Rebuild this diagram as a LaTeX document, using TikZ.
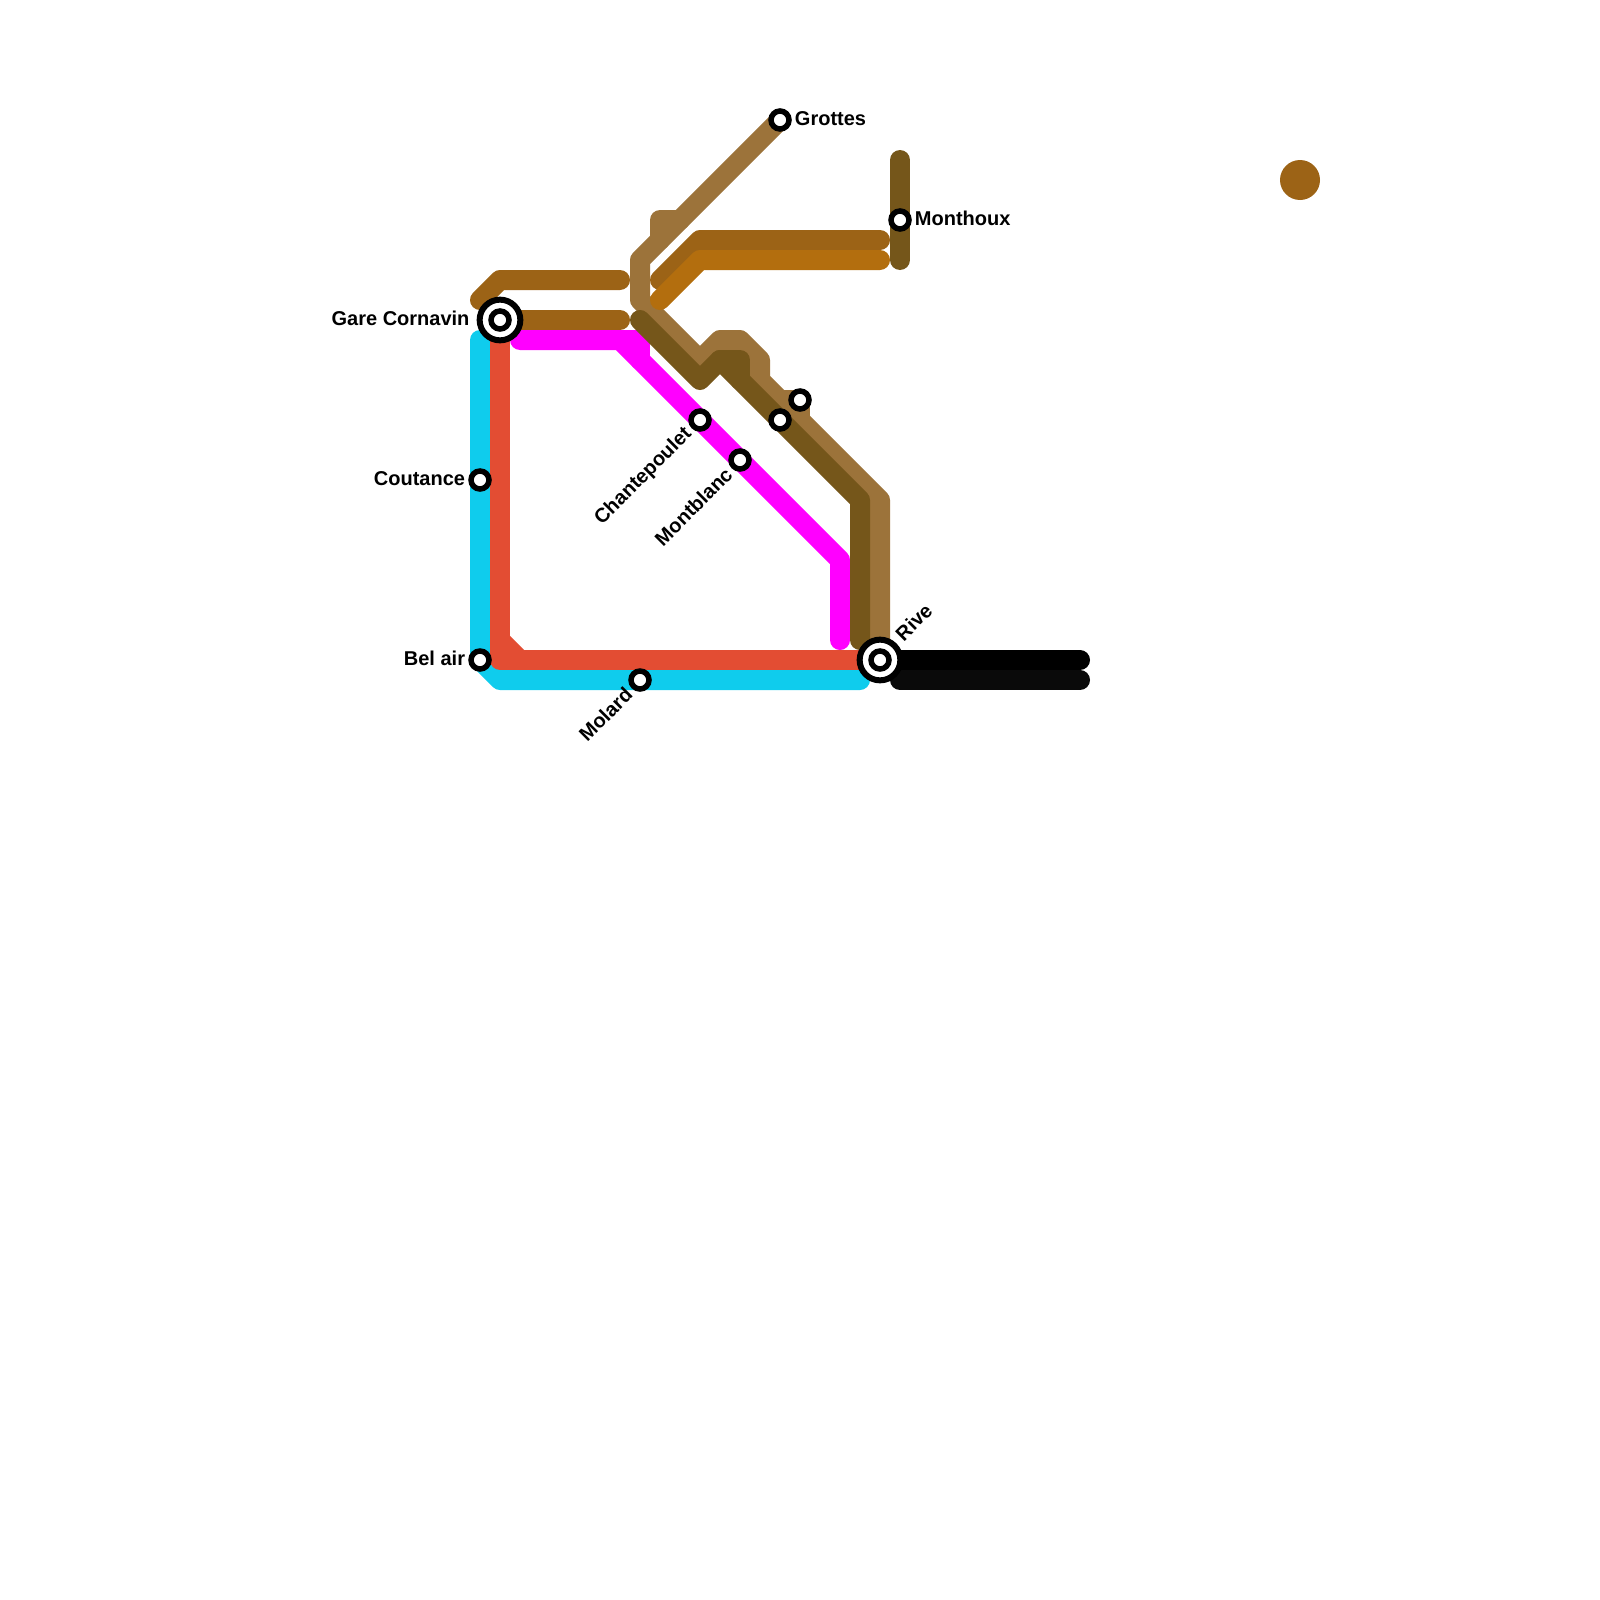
\documentclass[tikz,border=0pt]{standalone}
\usepackage{fontspec}
\setmainfont{Liberation Sans}
\usetikzlibrary{positioning}
\definecolor{LineTan}{HTML}{9C733A}
\definecolor{LineOlive}{HTML}{75561A}
\definecolor{LineBrown}{HTML}{9C6316}
\definecolor{LineOrange}{HTML}{B36E0E}
\definecolor{LineCyan}{HTML}{0FCCED}
\definecolor{LineRed}{HTML}{E34D33}
\definecolor{LineMagenta}{HTML}{FF00FF}
\definecolor{LineBlack}{HTML}{0A0A0A}
\tikzset{
  route/.style={line width=20pt,line cap=round,line join=round},
  stop/.style={circle,draw=black,fill=white,line width=5.5pt,minimum size=18pt,inner sep=0pt},
  hub/.style={circle,draw=black,fill=white,line width=6pt,minimum size=40.7pt,inner sep=0pt},
  stoplabel/.style={font=\fontsize{20}{22}\selectfont\bfseries,inner sep=0pt},
  flatlabel/.style={stoplabel,yshift=1.5pt},
  leanlabel/.style={stoplabel,rotate=45,anchor=east,xshift=-4pt}
}
\begin{document}
\begin{tikzpicture}[x=1pt,y=-1pt,node distance=3pt]
  \useasboundingbox (0,0) rectangle (1600,1600);
  % stations
  \coordinate (cornavinpos) at (500,320);
  \coordinate (rivepos) at (880,660);
  \coordinate (grottespos) at (780,120);
  \coordinate (monthouxpos) at (900,220);
  \coordinate (coutancepos) at (480,480);
  \coordinate (belairpos) at (480,660);
  \coordinate (molardpos) at (640,680);
  % line ends
  \coordinate (cyanstart) at (480,340);
  \coordinate (cyanend) at (860,680);
  \coordinate (brownastart) at (480,300);
  \coordinate (brownaend) at (620,280);
  \coordinate (brownbend) at (620,320);
  \coordinate (browncstart) at (660,280);
  \coordinate (browncend) at (880,240);
  \coordinate (orangestart) at (660,300);
  \coordinate (orangeend) at (880,260);
  \coordinate (magentastart) at (520,340);
  \coordinate (magentaend) at (840,640);
  \coordinate (olivestart) at (640,320);
  \coordinate (oliveend) at (860,640);
  \coordinate (monthouxtop) at (900,160);
  \coordinate (monthouxbot) at (900,260);
  \coordinate (blackastart) at (900,660);
  \coordinate (blackaend) at (1080,660);
  \coordinate (blackbstart) at (900,680);
  \coordinate (blackbend) at (1080,680);
  % lines
  \draw[route,LineCyan] (cyanstart) -- (belairpos) -- (500,680) -- (cyanend);
  \draw[route,LineRed] (cornavinpos) -- (500,660) -- (rivepos);
  \draw[route,LineRed] (500,640) -- (520,660);
  \draw[route,LineBrown] (brownastart) -- (500,280) -- (brownaend);
  \draw[route,LineBrown] (cornavinpos) -- (brownbend);
  \draw[route,LineMagenta] (magentastart) -- (620,340) -- (840,560) -- (magentaend);
  \draw[route,LineMagenta] (620,340) -- (640,340) -- (640,360);
  \draw[route,LineTan] (grottespos) -- (640,260) -- (640,300) -- (700,360) -- (720,340)
    -- (740,340) -- (760,360) -- (760,380) -- (880,500) -- (rivepos);
  \draw[route,LineTan] (660,240) -- (660,220) -- (680,220);
  \draw[route,LineTan] (780,400) -- (800,400) -- (800,420);
  \draw[route,LineOlive] (olivestart) -- (700,380) -- (720,360) -- (860,500) -- (oliveend);
  \draw[route,LineOlive] (720,360) -- (740,360) -- (740,380);
  \draw[route,LineOlive] (monthouxtop) -- (monthouxbot);
  \draw[route,LineBrown] (browncstart) -- (700,240) -- (browncend);
  \draw[route,LineOrange] (orangestart) -- (700,260) -- (orangeend);
  \draw[route,LineBlack] (blackbstart) -- (blackbend);
  \draw[route,black] (blackastart) -- (blackaend);
  \node[circle,fill=LineBrown,minimum size=40pt,inner sep=0pt] (spot) at (1300,180) {};
  % stops
  \node[hub] (cornavin) at (cornavinpos) {};
  \node[stop] (cornavininner) at (cornavinpos) {};
  \node[hub] (rive) at (rivepos) {};
  \node[stop] (riveinner) at (rivepos) {};
  \node[stop] (grottes) at (grottespos) {};
  \node[stop] (monthoux) at (monthouxpos) {};
  \node[stop] (coutance) at (coutancepos) {};
  \node[stop] (belair) at (belairpos) {};
  \node[stop] (molard) at (molardpos) {};
  \node[stop] (chantepoulet) at (700,420) {};
  \node[stop] (montblanc) at (740,460) {};
  \node[stop] (unnameda) at (780,420) {};
  \node[stop] (unnamedb) at (800,400) {};
  % labels
  \node[flatlabel,left=7pt of cornavin] (cornavintext) {Gare Cornavin};
  \node[flatlabel,right=of grottes] (grottestext) {Grottes};
  \node[flatlabel,right=of monthoux] (monthouxtext) {Monthoux};
  \node[flatlabel,left=of coutance] (coutancetext) {Coutance};
  \node[flatlabel,left=of belair] (belairtext) {Bel air};
  \node[leanlabel] (molardtext) at (molard.south west) {Molard};
  \node[leanlabel] (chantepoulettext) at (chantepoulet.south west) {Chantepoulet};
  \node[leanlabel] (montblanctext) at (montblanc.south west) {Montblanc};
  \node[stoplabel,rotate=45,anchor=west,xshift=6pt,yshift=3pt] (rivetext) at (rive.north east) {Rive};
\end{tikzpicture}
\end{document}
